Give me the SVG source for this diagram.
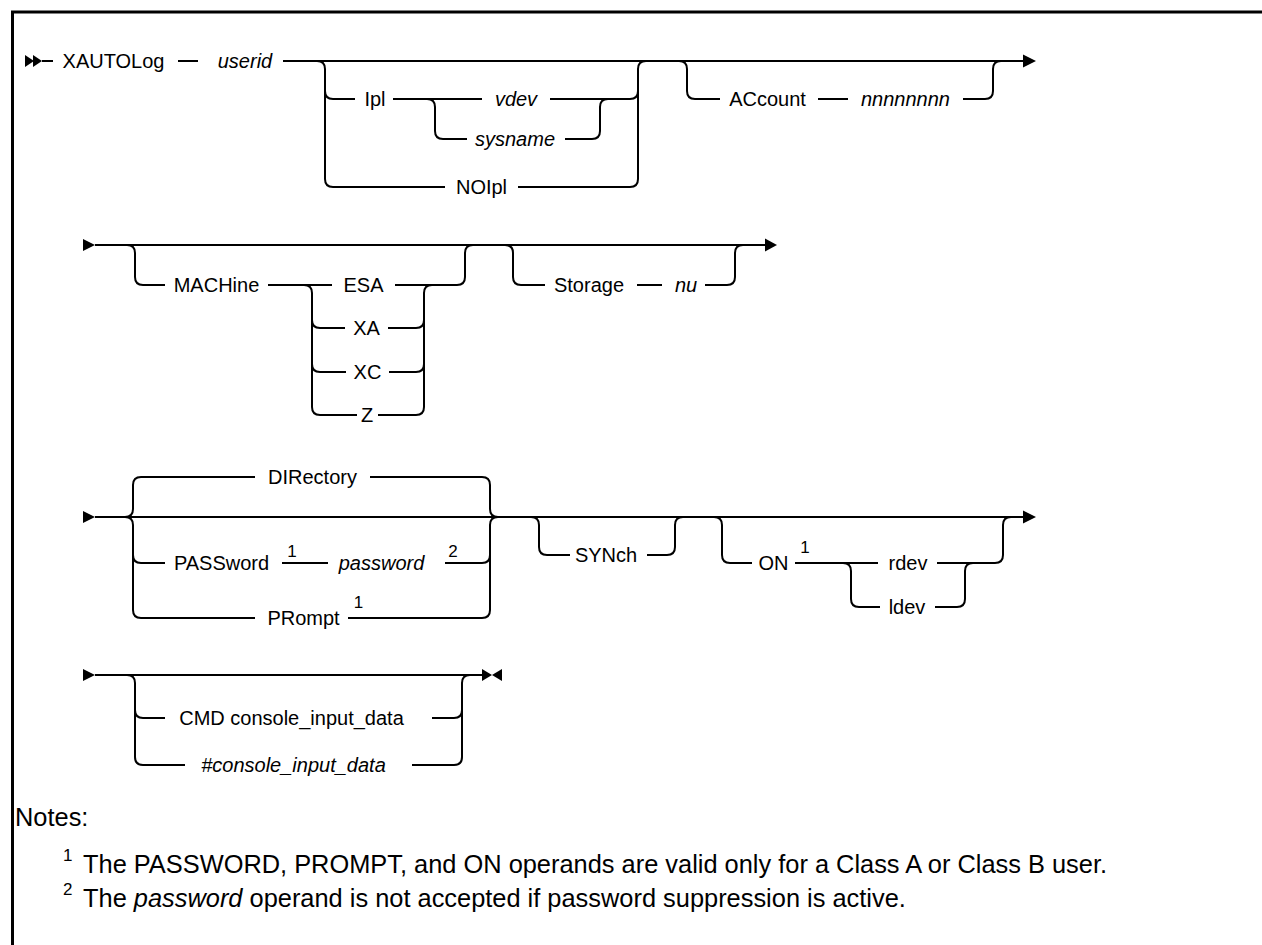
<svg xmlns="http://www.w3.org/2000/svg" width="1262" height="945" viewBox="0 0 1262 945">
<style>
.ln{fill:none;stroke:#000;stroke-width:2}
.ar{fill:#000;stroke:none}
.t{font-family:"Liberation Sans",Arial,sans-serif;font-size:20px;fill:#000;text-anchor:middle}
.i{font-style:italic}
.sup{font-family:"Liberation Sans",Arial,sans-serif;font-size:17px;fill:#000;text-anchor:middle}
.n{font-family:"Liberation Sans",Arial,sans-serif;font-size:25.4px;fill:#000}
.ns{font-family:"Liberation Sans",Arial,sans-serif;font-size:17px;fill:#000}
</style>
<rect width="1262" height="945" fill="#fff"/>
<path d="M12.5 945 V12 H1262" fill="none" stroke="#000" stroke-width="3"/>
<g id="connectors">
<polygon class="ar" points="25,55 34,61 25,67"/>
<polygon class="ar" points="33,55 42,61 33,67"/>
<path class="ln" d="M42 61 H53"/>
<path class="ln" d="M178 61 H198"/>
<path class="ln" d="M283 61 H1024"/>
<polygon class="ar" points="1023,54.5 1036,61 1023,67.5"/>
<path class="ln" d="M317 61 Q325 61 325 69 V179 Q325 187 333 187 H445"/>
<path class="ln" d="M325 91 Q325 99 333 99 H355"/>
<path class="ln" d="M393 99 H482"/>
<path class="ln" d="M550 99 H630 Q638 99 638 91"/>
<path class="ln" d="M518 187 H630 Q638 187 638 179 V69 Q638 61 646 61"/>
<path class="ln" d="M427 99 Q435 99 435 107 V131 Q435 139 443 139 H467"/>
<path class="ln" d="M565 139 H592 Q600 139 600 131 V107 Q600 99 608 99"/>
<path class="ln" d="M679 61 Q687 61 687 69 V91 Q687 99 695 99 H720"/>
<path class="ln" d="M818 99 H848"/>
<path class="ln" d="M963 99 H985 Q993 99 993 91 V69 Q993 61 1001 61"/>
<polygon class="ar" points="83,239 95,245 83,251"/>
<path class="ln" d="M95 245 H766"/>
<polygon class="ar" points="765,238.5 777,245 765,251.5"/>
<path class="ln" d="M127 245 Q135 245 135 253 V277 Q135 285 143 285 H165"/>
<path class="ln" d="M268 285 H332"/>
<path class="ln" d="M395 285 H457 Q465 285 465 277 V253 Q465 245 473 245"/>
<path class="ln" d="M304 285 Q312 285 312 293 V407 Q312 415 320 415 H357"/>
<path class="ln" d="M312 320 Q312 328 320 328 H345"/>
<path class="ln" d="M312 364 Q312 372 320 372 H346"/>
<path class="ln" d="M388 328 H416 Q424 328 424 320"/>
<path class="ln" d="M389 372 H416 Q424 372 424 364"/>
<path class="ln" d="M378 415 H416 Q424 415 424 407 V293 Q424 285 432 285"/>
<path class="ln" d="M505 245 Q513 245 513 253 V277 Q513 285 521 285 H545"/>
<path class="ln" d="M637 285 H662"/>
<path class="ln" d="M705 285 H727 Q735 285 735 277 V253 Q735 245 743 245"/>
<polygon class="ar" points="83,511 95,517 83,523"/>
<path class="ln" d="M95 517 H1024"/>
<polygon class="ar" points="1023,510.5 1036,517 1023,523.5"/>
<path class="ln" d="M125 517 Q133 517 133 509 V485 Q133 477 141 477 H255"/>
<path class="ln" d="M370 477 H482 Q490 477 490 485 V509 Q490 517 498 517"/>
<path class="ln" d="M125 517 Q133 517 133 525 V610 Q133 618 141 618 H255"/>
<path class="ln" d="M348 618 H482 Q490 618 490 610 V525 Q490 517 498 517"/>
<path class="ln" d="M133 555 Q133 563 141 563 H165"/>
<path class="ln" d="M282 563 H328"/>
<path class="ln" d="M445 563 H482 Q490 563 490 555"/>
<path class="ln" d="M531 517 Q539 517 539 525 V547 Q539 555 547 555 H570"/>
<path class="ln" d="M647 555 H667 Q675 555 675 547 V525 Q675 517 683 517"/>
<path class="ln" d="M714 517 Q722 517 722 525 V555 Q722 563 730 563 H752"/>
<path class="ln" d="M795 563 H878"/>
<path class="ln" d="M937 563 H995 Q1003 563 1003 555 V525 Q1003 517 1011 517"/>
<path class="ln" d="M843 563 Q851 563 851 571 V599 Q851 607 859 607 H880"/>
<path class="ln" d="M935 607 H957 Q965 607 965 599 V571 Q965 563 973 563"/>
<polygon class="ar" points="83,669 95,675 83,681"/>
<path class="ln" d="M95 675 H482"/>
<polygon class="ar" points="482,669 492,675 482,681"/>
<polygon class="ar" points="502,669 492,675 502,681"/>
<path class="ln" d="M127 675 Q135 675 135 683 V757 Q135 765 143 765 H185"/>
<path class="ln" d="M135 710 Q135 718 143 718 H165"/>
<path class="ln" d="M432 718 H454 Q462 718 462 710"/>
<path class="ln" d="M412 765 H454 Q462 765 462 757 V683 Q462 675 470 675"/>
</g>
<g id="n-xautolog"><text class="t" x="113.5" y="68">XAUTOLog</text></g>
<g id="n-userid"><text class="t i" x="245" y="68">userid</text></g>
<g id="n-ipl"><text class="t" x="375" y="106">Ipl</text></g>
<g id="n-vdev"><text class="t i" x="516" y="106">vdev</text></g>
<g id="n-sysname"><text class="t i" x="515" y="146">sysname</text></g>
<g id="n-noipl"><text class="t" x="481.5" y="194">NOIpl</text></g>
<g id="n-account"><text class="t" x="767.5" y="106">ACcount</text></g>
<g id="n-nnnn"><text class="t i" x="905.5" y="106">nnnnnnnn</text></g>
<g id="n-machine"><text class="t" x="216.5" y="292">MACHine</text></g>
<g id="n-esa"><text class="t" x="363.5" y="292">ESA</text></g>
<g id="n-xa"><text class="t" x="366.5" y="335">XA</text></g>
<g id="n-xc"><text class="t" x="367.5" y="379">XC</text></g>
<g id="n-z"><text class="t" x="367" y="422">Z</text></g>
<g id="n-storage"><text class="t" x="589" y="292">Storage</text></g>
<g id="n-nu"><text class="t i" x="686" y="292">nu</text></g>
<g id="n-directory"><text class="t" x="312.5" y="484">DIRectory</text></g>
<g id="n-passwordkw"><text class="t" x="221.5" y="570">PASSword</text><text class="sup" x="292" y="557">1</text></g>
<g id="n-password"><text class="t i" x="381.5" y="570">password</text><text class="sup" x="453" y="557">2</text></g>
<g id="n-prompt"><text class="t" x="303.5" y="625">PRompt</text><text class="sup" x="358.5" y="608">1</text></g>
<g id="n-synch"><text class="t" x="606" y="562">SYNch</text></g>
<g id="n-on"><text class="t" x="773.5" y="570">ON</text><text class="sup" x="805" y="553">1</text></g>
<g id="n-rdev"><text class="t" x="908" y="570">rdev</text></g>
<g id="n-ldev"><text class="t" x="907" y="614">ldev</text></g>
<g id="n-cmd"><text class="t" x="291.5" y="725">CMD console_input_data</text></g>
<g id="n-hash"><text class="t i" x="293.5" y="772">#console_input_data</text></g>
<g id="notes">
<text class="n" x="15" y="826">Notes:</text>
<text class="ns" x="63" y="861">1</text>
<text class="n" x="83" y="873">The PASSWORD, PROMPT, and ON operands are valid only for a Class A or Class B user.</text>
<text class="ns" x="63" y="895">2</text>
<text class="n" x="83" y="907">The <tspan font-style="italic">password</tspan> operand is not accepted if password suppression is active.</text>
</g>
</svg>
